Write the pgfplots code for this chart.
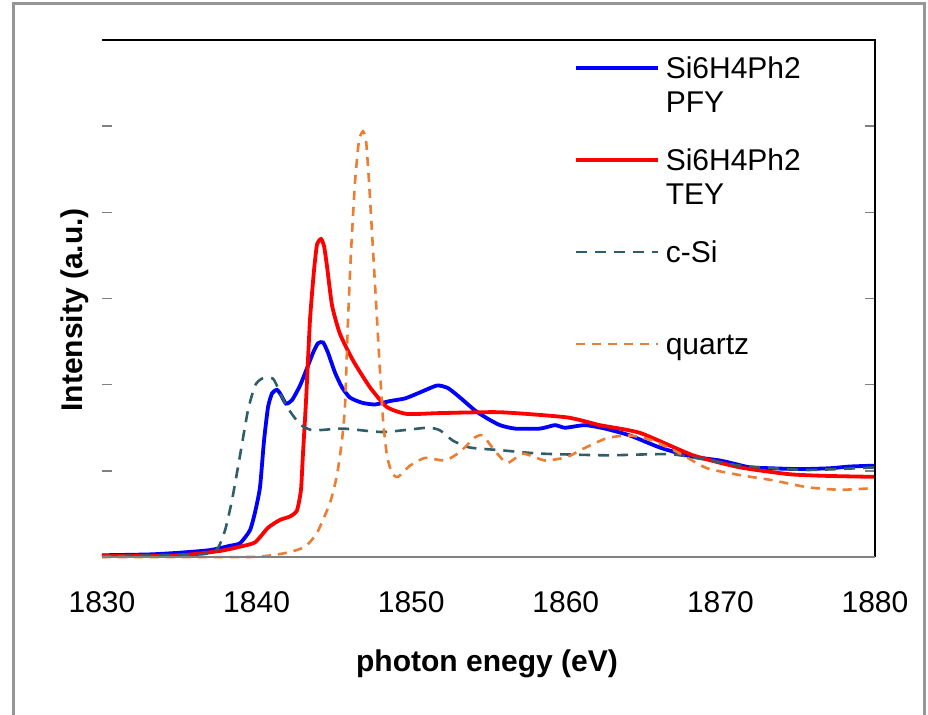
\documentclass[border=0pt]{standalone}
\usepackage{pgfplots}
\pgfplotsset{compat=1.18}
\usepackage{fontspec}
\setmainfont{Liberation Sans}
\definecolor{pfy}{RGB}{0,0,255}
\definecolor{tey}{RGB}{255,0,0}
\definecolor{csi}{RGB}{47,94,106}
\definecolor{qtz}{RGB}{237,125,49}
\definecolor{framegray}{RGB}{150,150,150}
\begin{document}
\begin{tikzpicture}
\useasboundingbox (0,0) rectangle (464pt,357.5pt);
\draw[framegray, line width=1.5pt] (6.5pt,-2pt) -- (6.5pt,355.5pt) -- (462pt,355.5pt) -- (462pt,-2pt);
\begin{axis}[
  at={(51pt,79pt)}, anchor=south west,
  scale only axis, width=386.5pt, height=258.5pt,
  xmin=1830, xmax=1880, ymin=0, ymax=6,
  clip=false,
  axis line style={draw=none},
  xtick={1830,1840,...,1880},
  x tick style={draw=none},
  ytick={1,2,3,4,5}, yticklabels={},
  y tick style={gray, line width=0.8pt},
  major tick length=5pt, tick align=inside,
  /pgf/number format/assume math mode=true,
  /pgf/number format/set thousands separator={},
  tick label style={font=\fontsize{15}{17}\selectfont},
  xticklabel style={anchor=base, yshift=-28pt},
  xlabel={\bfseries photon enegy (eV)},
  xlabel style={at={(axis description cs:0.498,-0.2224)}, anchor=base, font=\fontsize{15}{17}\selectfont},
  ylabel={\bfseries Intensity (a.u.)},
  ylabel style={at={(axis description cs:-0.0246,0.478)}, anchor=base, rotate=0, font=\fontsize{15}{17}\selectfont},
  legend style={at={(axis description cs:0.6106,0.9725)}, anchor=north west, draw=none, fill=none,
    inner sep=0pt, outer sep=0pt, nodes={inner sep=0pt, outer sep=0pt, text height=11.9pt, text depth=22.1pt},
    column sep=3pt, row sep=12pt,
    font=\fontsize{15}{17}\selectfont},
  legend cell align=left,
  legend image code/.code={\draw[#1] (0pt,10.1pt) -- (41pt,10.1pt);},
  every axis plot/.append style={smooth, tension=0.35},
]
\addplot[pfy, line width=1.9pt] coordinates {
(1830,0.02) (1833.1,0.03) (1835.05,0.05) (1836.99,0.08) (1838.28,0.13) (1838.93,0.16)
(1839.57,0.31) (1839.9,0.52) (1840.22,0.81) (1840.48,1.35) (1840.74,1.74) (1841.0,1.90)
(1841.32,1.94) (1841.58,1.88) (1841.9,1.78) (1842.29,1.82) (1842.81,1.99) (1843.26,2.19)
(1843.65,2.37) (1843.97,2.48) (1844.3,2.49) (1844.62,2.37) (1845.07,2.14) (1845.52,1.97)
(1846.04,1.85) (1846.82,1.79) (1847.66,1.77) (1848.63,1.81) (1849.6,1.84) (1850.57,1.91)
(1851.67,1.99) (1852.38,1.96) (1853.16,1.85) (1854.13,1.70) (1854.9,1.61) (1855.74,1.53)
(1856.71,1.49) (1858.33,1.49) (1859.3,1.53) (1859.95,1.50) (1861.24,1.53) (1862.54,1.49)
(1864.15,1.41) (1866.09,1.27) (1868.03,1.17) (1869.97,1.12) (1870.94,1.08) (1871.91,1.04)
(1873.21,1.03) (1875.15,1.02) (1877.09,1.03) (1878.38,1.05) (1880,1.06)
};
\addlegendentry{\begin{tabular}[t]{@{}l@{}}Si6H4Ph2\\PFY\end{tabular}}
\addplot[tey, line width=1.9pt] coordinates {
(1830,0.01) (1835.05,0.02) (1837.63,0.07) (1838.93,0.12) (1839.9,0.17) (1840.74,0.34)
(1841.51,0.43) (1842.16,0.47) (1842.61,0.54) (1842.87,0.78) (1843.0,1.20) (1843.2,1.82)
(1843.45,2.74) (1843.71,3.32) (1843.91,3.63) (1844.17,3.69) (1844.36,3.61) (1844.55,3.38)
(1844.88,2.92) (1845.39,2.59) (1846.24,2.28) (1847.33,1.97) (1848.43,1.74) (1849.73,1.66)
(1851.86,1.67) (1855.74,1.68) (1860.08,1.62) (1862.2,1.53) (1864.8,1.44) (1868.23,1.18)
(1871.27,1.04) (1874.5,0.96) (1877.1,0.94) (1880,0.93)
};
\addlegendentry{\begin{tabular}[t]{@{}l@{}}Si6H4Ph2\\TEY\end{tabular}}
\addplot[csi, line width=1.3pt, dash pattern=on 5.5pt off 4pt] coordinates {
(1830,0.01) (1836.34,0.03) (1837.44,0.09) (1837.96,0.31) (1838.41,0.66) (1838.93,1.18)
(1839.44,1.70) (1839.9,1.99) (1840.35,2.07) (1841.06,2.07) (1841.51,1.91) (1841.97,1.74)
(1842.81,1.54) (1843.65,1.47) (1845.59,1.49) (1848.18,1.45) (1851.02,1.50) (1851.86,1.47)
(1852.7,1.35) (1853.8,1.27) (1855.74,1.24) (1858.33,1.20) (1862.67,1.18) (1866.93,1.19)
(1871.27,1.06) (1875.6,1.01) (1880,1.04)
};
\addlegendentry{\begin{tabular}[t]{@{}l@{}}c-Si\\\mbox{}\end{tabular}}
\addplot[qtz, line width=1.3pt, dash pattern=on 4.5pt off 3.5pt] coordinates {
(1830,0.0) (1839.57,0.0) (1841.97,0.05) (1843.13,0.12) (1843.91,0.28) (1844.75,0.63)
(1845.2,0.95) (1845.52,1.35) (1845.72,1.76) (1845.91,2.74) (1846.11,3.55) (1846.37,4.36)
(1846.62,4.83) (1846.88,4.94) (1847.08,4.83) (1847.27,4.36) (1847.46,3.78) (1847.72,2.97)
(1847.98,2.16) (1848.18,1.59) (1848.43,1.18) (1848.76,0.97) (1849.15,0.93) (1849.92,1.06)
(1850.89,1.15) (1852.19,1.12) (1853.16,1.22) (1854.13,1.39) (1854.64,1.41) (1855.29,1.26)
(1856.2,1.09) (1857.23,1.20) (1858.65,1.12) (1860.08,1.16) (1861.05,1.25) (1862.67,1.38)
(1864.15,1.41) (1865.64,1.35) (1867.39,1.20) (1869.13,1.03) (1871.27,0.95) (1873.4,0.89)
(1875.6,0.81) (1877.74,0.78) (1880,0.80)
};
\addlegendentry{\begin{tabular}[t]{@{}l@{}}quartz\\\mbox{}\end{tabular}}
\draw[black, line width=0.9pt] (rel axis cs:0,1) -- (rel axis cs:1,1) -- (rel axis cs:1,0);
\draw[gray, line width=0.9pt] (rel axis cs:0,0) -- (rel axis cs:1,0);
\end{axis}
\end{tikzpicture}
\end{document}
